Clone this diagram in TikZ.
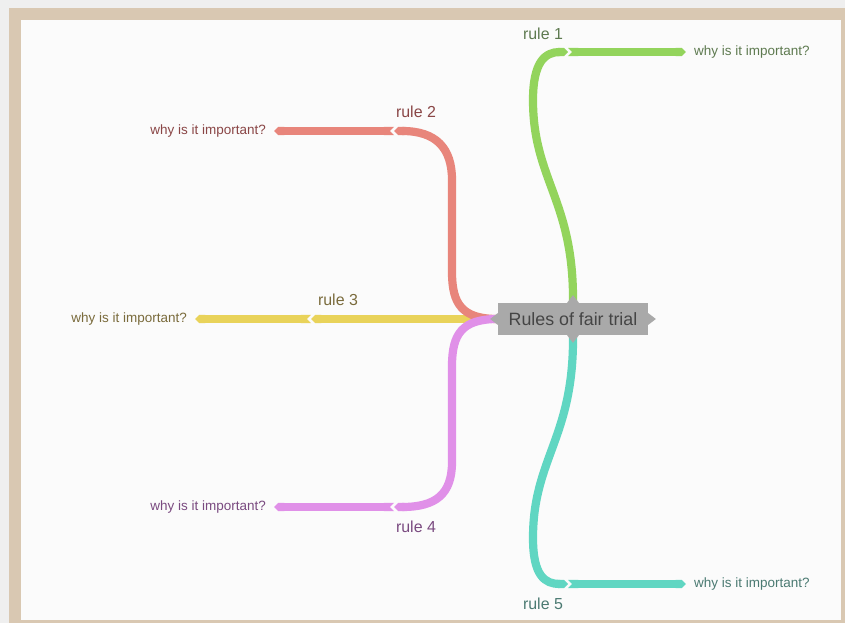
\documentclass[tikz,border=0pt]{standalone}
\usepackage{fontspec}
\setmainfont{Liberation Sans}
\usetikzlibrary{arrows.meta}
\definecolor{outergray}{HTML}{EFEFEF}
\definecolor{framebeige}{HTML}{D9C8B2}
\definecolor{panelwhite}{HTML}{FBFBFB}
\definecolor{hubgray}{HTML}{A9A9A9}
\definecolor{hubink}{HTML}{454545}
\definecolor{greenline}{HTML}{93D45C}
\definecolor{redline}{HTML}{E8857B}
\definecolor{yellowline}{HTML}{E9D35A}
\definecolor{pinkline}{HTML}{E090E8}
\definecolor{tealline}{HTML}{60D6C2}
\definecolor{greenink}{HTML}{5E7A50}
\definecolor{redink}{HTML}{8A4646}
\definecolor{yellowink}{HTML}{7A6B3C}
\definecolor{pinkink}{HTML}{7A4A80}
\definecolor{tealink}{HTML}{4B7A72}
\tikzset{hub/.style={rectangle,fill=hubgray,text=hubink,minimum width=4.5cm,minimum height=0.96cm,inner sep=0pt,font=\fontsize{15.2}{17}\selectfont},leaf/.style={inner sep=0pt,font=\fontsize{11.5}{13}\selectfont},rulename/.style={inner sep=0pt,font=\fontsize{13.6}{15}\selectfont},branch/.style={line width=7pt,-{Triangle Cap}},twig/.style={line width=7pt,{Triangle Cap[reversed]}-{Triangle Cap},shorten >=7pt}}

\begin{document}
\begin{tikzpicture}[x=0.03cm,y=-0.03cm]
\fill[outergray] (0,0) rectangle (845,623);
\fill[framebeige] (9,8) rectangle (845,623);
\fill[panelwhite] (21,20) rectangle (841,620);
\useasboundingbox (0,0) rectangle (845,623);
\node[hub] (fair) at (573,319) {Rules of fair trial};
\coordinate (j1) at (568,52);
\coordinate (j2) at (394,131);
\coordinate (j3) at (311,319);
\coordinate (j4) at (394,507);
\coordinate (j5) at (568,584);
\node[rulename,text=greenink] (r1) at (543,34) {rule 1};
\node[rulename,text=redink] (r2) at (416,112) {rule 2};
\node[rulename,text=yellowink] (r3) at (338,300) {rule 3};
\node[rulename,text=pinkink] (r4) at (416,527) {rule 4};
\node[rulename,text=tealink] (r5) at (543,604) {rule 5};
\node[leaf,text=greenink,anchor=west] (w1) at (694,52) {why is it important?};
\node[leaf,text=redink,anchor=east] (w2) at (266,131) {why is it important?};
\node[leaf,text=yellowink,anchor=east] (w3) at (187,319) {why is it important?};
\node[leaf,text=pinkink,anchor=east] (w4) at (266,507) {why is it important?};
\node[leaf,text=tealink,anchor=west] (w5) at (694,584) {why is it important?};
\draw[branch,greenline] (fair.north) .. controls (574,200) and (533,180) .. (533,100) .. controls (533,62) and (545,52) .. (j1);
\draw[branch,tealline] (fair.south) .. controls (574,438) and (533,458) .. (533,538) .. controls (533,576) and (545,584) .. (j5);
\draw[branch,yellowline] (fair.west) -- (j3);
\draw[branch,redline] (fair.west) .. controls (462,319) and (452,304) .. (452,272) -- (452,180) .. controls (452,148) and (436,131) .. (j2);
\draw[branch,pinkline] (fair.west) .. controls (462,319) and (452,334) .. (452,366) -- (452,462) .. controls (452,494) and (436,507) .. (j4);
\draw[twig,greenline] (j1) -- (w1.west);
\draw[twig,redline] (j2) -- (w2.east);
\draw[twig,yellowline] (j3) -- (w3.east);
\draw[twig,pinkline] (j4) -- (w4.east);
\draw[twig,tealline] (j5) -- (w5.west);
\foreach \a/\r in {north/90,south/-90,west/180,east/0}
  \fill[hubgray] ([shift={(\r+90:5pt)}]fair.\a) -- ([shift={(\r:6.5pt)}]fair.\a) -- ([shift={(\r-90:5pt)}]fair.\a) -- cycle;
\end{tikzpicture}
\end{document}
